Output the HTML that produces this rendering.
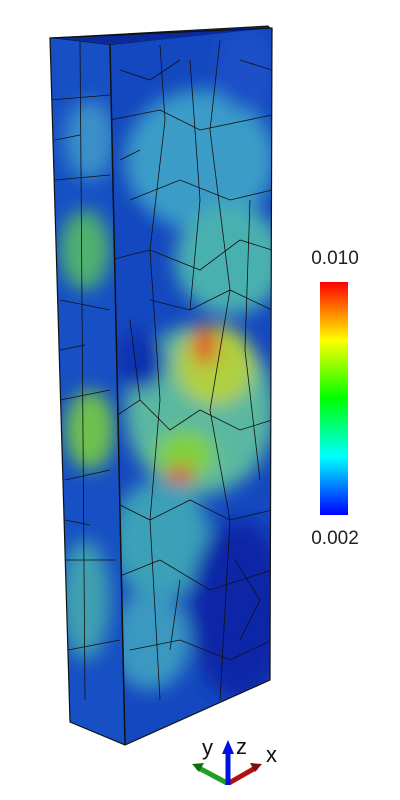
<!DOCTYPE html>
<html><head><meta charset="utf-8"><style>
html,body{margin:0;padding:0;background:#fff;width:400px;height:800px;overflow:hidden}
svg{display:block}
text{font-family:"Liberation Sans",sans-serif}
</style></head><body>
<svg width="400" height="800" viewBox="0 0 400 800">
<defs>
<clipPath id="front"><polygon points="110,45 272,28 270,680 125,745"/></clipPath>
<clipPath id="side"><polygon points="50,38 110,45 125,745 70,722"/></clipPath>
<linearGradient id="cb" x1="0" y1="1" x2="0" y2="0">
<stop offset="0" stop-color="#0000ff"/><stop offset="0.25" stop-color="#00ffff"/>
<stop offset="0.5" stop-color="#00ff00"/><stop offset="0.75" stop-color="#ffff00"/>
<stop offset="1" stop-color="#ff0000"/></linearGradient>
<filter id="bl"><feGaussianBlur stdDeviation="9"/></filter>
</defs>
<polygon points="50,38 110,45 272,30 268,26" fill="#0a2a9a" stroke="#111" stroke-width="1"/>
<g clip-path="url(#front)">
<rect x="100" y="20" width="180" height="740" fill="#1448c0"/>
<g filter="url(#bl)">
<ellipse cx="200" cy="160" rx="75" ry="70" fill="#3a9cc8"/>
<ellipse cx="230" cy="260" rx="55" ry="55" fill="#48b0b0"/>
<ellipse cx="200" cy="410" rx="75" ry="85" fill="#5ab8a0"/>
<ellipse cx="215" cy="365" rx="40" ry="40" fill="#b0d040"/>
<ellipse cx="185" cy="455" rx="30" ry="25" fill="#80d040"/>
<ellipse cx="180" cy="475" rx="15" ry="8" fill="#e03020"/>
<ellipse cx="205" cy="345" rx="12" ry="20" fill="#e05020"/>
<ellipse cx="160" cy="540" rx="50" ry="60" fill="#3aa0b8"/>
<ellipse cx="150" cy="640" rx="40" ry="50" fill="#3a98c0"/>
<ellipse cx="245" cy="70" rx="30" ry="40" fill="#1a50c8"/>
<ellipse cx="240" cy="610" rx="50" ry="90" fill="#0a28a8"/>
<ellipse cx="140" cy="360" rx="25" ry="30" fill="#0a30b0"/>
</g>
<g stroke="#111" stroke-width="0.8" fill="none">
<path d="M110,120 L160,110 L200,130 L272,115 M130,200 L180,180 L230,200 L272,190 M110,260 L150,250 L200,270 L240,240 L272,250 M150,300 L190,310 L230,290 L272,310 M110,420 L140,400 L170,430 L200,410 L240,430 L272,420 M110,500 L150,520 L190,500 L230,520 L272,510 M110,580 L160,560 L210,590 L272,570 M130,650 L180,640 L230,660 L272,640 M160,45 L165,120 L150,250 L160,400 L150,520 L160,700 M220,40 L210,130 L230,290 L210,410 L230,520 L220,700 M190,60 L200,200 L190,310 M250,200 L245,350 L260,480 M130,320 L140,400 M180,580 L170,650 M120,70 L150,80 L180,60 M240,60 L272,70 M120,160 L140,150 M235,560 L260,600 L240,640"/>
</g>
</g>
<g clip-path="url(#side)">
<rect x="40" y="30" width="90" height="720" fill="#1650c4"/>
<g filter="url(#bl)">
<ellipse cx="85" cy="250" rx="25" ry="40" fill="#50b070"/>
<ellipse cx="90" cy="430" rx="25" ry="40" fill="#70c050"/>
<ellipse cx="85" cy="600" rx="25" ry="60" fill="#40a0b0"/>
<ellipse cx="90" cy="140" rx="25" ry="40" fill="#3a90c8"/>
</g>
<path d="M50,100 L110,95 M55,180 L110,175 M60,300 L110,310 M60,400 L110,390 M65,480 L110,470 M65,560 L115,560 M68,650 L120,640 M80,40 L85,700 M55,140 L80,135 M60,350 L85,345 M65,520 L90,525" stroke="#111" stroke-width="0.8" fill="none"/>
</g>
<polygon points="50,38 272,28 270,680 125,745 70,722" fill="none" stroke="#111" stroke-width="1.2"/>
<line x1="110" y1="45" x2="125" y2="745" stroke="#111" stroke-width="1.5"/>
<g>
<rect x="320" y="282" width="28" height="233" fill="url(#cb)"/>
<text x="335" y="264" font-size="19" text-anchor="middle" fill="#222">0.010</text>
<text x="335" y="544" font-size="19" text-anchor="middle" fill="#222">0.002</text>
</g>
<g>
<line x1="227" y1="783" x2="197" y2="767" stroke="#20a020" stroke-width="5"/>
<polygon points="192,764 204,763 199,772" fill="#107010"/>
<line x1="229" y1="783" x2="257" y2="767" stroke="#b01010" stroke-width="5"/>
<polygon points="262,764 250,763 255,772" fill="#801010"/>
<line x1="228" y1="785" x2="228" y2="752" stroke="#0010e0" stroke-width="5"/>
<polygon points="228,740 222,754 234,754" fill="#0010e0"/>
<text x="202" y="755" font-size="22" fill="#111">y</text>
<text x="236" y="754" font-size="22" fill="#111">z</text>
<text x="266" y="762" font-size="22" fill="#111">x</text>
</g>
</svg>
</body></html>
